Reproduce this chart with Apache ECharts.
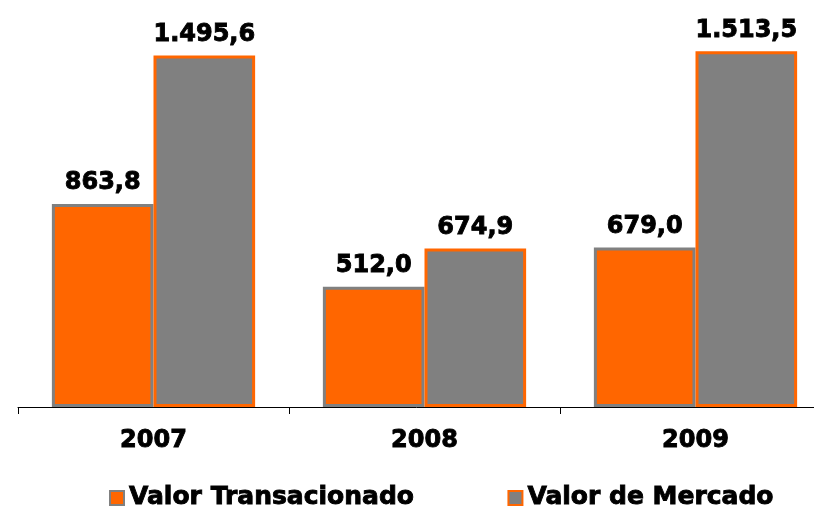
<!DOCTYPE html>
<html lang="pt">
<head>
	<meta charset="UTF-8">
	<title></title>
	<script src="https://cdn.jsdelivr.net/npm/echarts@6/dist/echarts.min.js" type="text/javascript"></script>
	<style>
		html, body { margin: 0; padding: 0; background: #fff; }
	</style>
</head>
<body>
	<div id="main" style="width: 814px;height:509px;"></div>
</body>
</html>

<script type="text/javascript">

var anos = ['2007', '2008', '2009'];
var transacionado = [863.8, 512.0, 679.0];
var mercado = [1495.6, 674.9, 1513.5];

var laranja = '#FF6600';
var cinza = '#808080';
var fonte = '"DejaVu Sans", Verdana, sans-serif';

// 1495.6 -> "1.495,6"
function fmt(v) {
	var s = v.toFixed(1).split('.');
	var inteiro = s[0].replace(/\B(?=(\d{3})+(?!\d))/g, '.');
	return inteiro + ',' + s[1];
}

// texto bem pesado, como no original
var negrito = {
	color: '#000',
	fontFamily: fonte,
	fontWeight: 'bold',
	fontSize: 24,
	textBorderColor: '#000',
	textBorderWidth: 0.9
};

var mychats = echarts.init(document.getElementById("main"));

var rotulo = Object.assign({
	show: true,
	position: 'top',
	distance: 9,
	formatter: function (p) { return fmt(p.value); }
}, negrito);

option = {
	animation: false,
	grid: {
		left: 18,
		width: 813,
		top: 31,
		bottom: 102,
		outerBoundsMode: 'none',
		containLabel: false
	},
	legend: {
		top: 480,
		left: 104,
		icon: 'rect',
		itemWidth: 14,
		itemHeight: 14,
		itemGap: 93,
		textStyle: Object.assign({}, negrito, { fontSize: 25 }),
		data: ['Valor Transacionado', 'Valor de Mercado']
	},
	xAxis: {
		type: 'category',
		data: anos,
		axisLine: { lineStyle: { color: '#000', width: 1 } },
		axisTick: { show: true, length: 7, lineStyle: { color: '#000' } },
		axisLabel: Object.assign({ margin: 22 }, negrito)
	},
	yAxis: {
		type: 'value',
		min: 0,
		max: 1600,
		show: false,
		splitLine: { show: false }
	},
	series: [
		{
			name: 'Valor Transacionado',
			type: 'bar',
			data: transacionado,
			barGap: '0%',
			barCategoryGap: '25%',
			itemStyle: { color: laranja, borderColor: cinza, borderWidth: 3 },
			label: rotulo
		},
		{
			name: 'Valor de Mercado',
			type: 'bar',
			data: mercado,
			itemStyle: { color: cinza, borderColor: laranja, borderWidth: 3 },
			label: rotulo
		}
	]
};
mychats.setOption(option);
</script>
